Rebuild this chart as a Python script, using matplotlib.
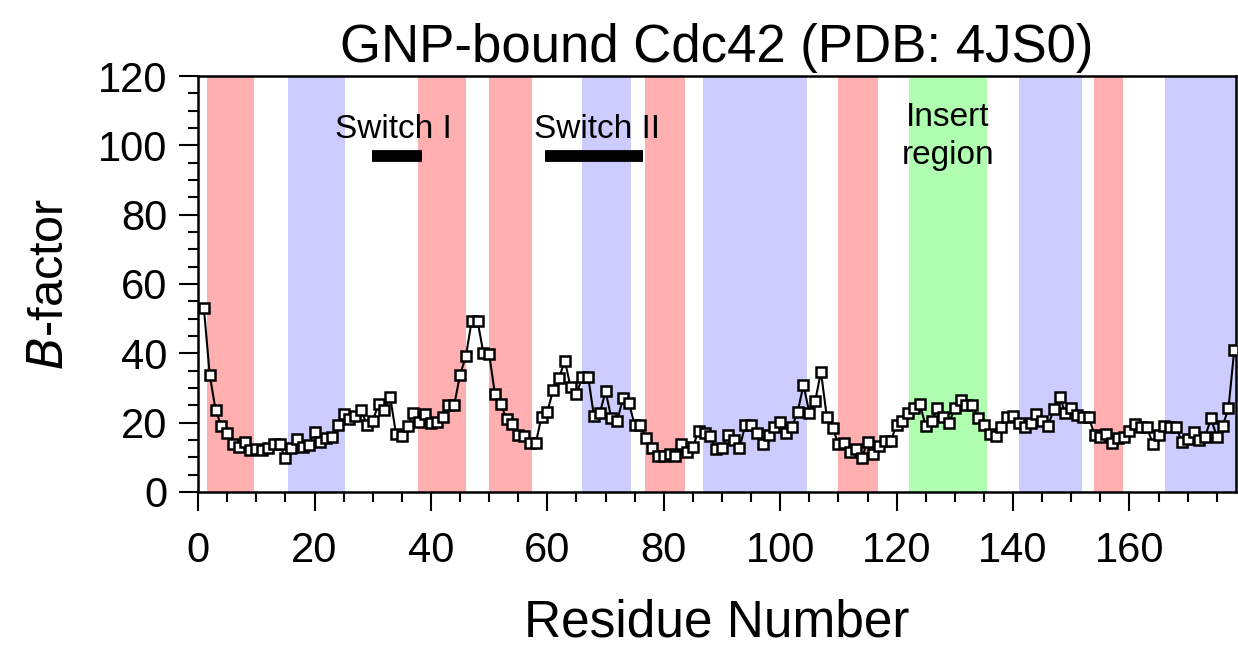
import numpy as np
import matplotlib
matplotlib.use("Agg")
import matplotlib.pyplot as plt
from matplotlib.ticker import MultipleLocator

plt.rcParams['font.family'] = ['Liberation Sans', 'DejaVu Sans']

# ---- data ----
residues = np.arange(1, 179)
bfactor = [
    53.0, 33.8, 23.7, 19.0, 16.9, 13.9, 13.1, 14.5, 12.1, 12.3,
    12.1, 12.6, 13.9, 13.9, 9.7, 12.6, 15.2, 13.1, 13.6, 17.4,
    14.5, 15.5, 16.0, 19.3, 22.4, 21.0, 22.0, 23.7, 19.3, 20.5,
    25.4, 23.7, 27.5, 16.7, 16.2, 19.0, 22.7, 20.3, 22.5, 19.8,
    20.3, 21.5, 25.1, 25.1, 33.8, 39.1, 49.4, 49.4, 40.2, 39.8,
    28.2, 25.3, 21.0, 19.5, 16.5, 16.2, 14.2, 14.0, 21.7, 23.2,
    29.4, 32.8, 37.9, 30.2, 28.3, 33.1, 33.3, 21.9, 22.7, 29.0,
    21.3, 20.6, 27.0, 25.8, 19.3, 19.3, 15.5, 12.6, 10.4, 10.4,
    11.0, 10.4, 13.9, 11.6, 13.1, 17.7, 16.9, 16.2, 12.3, 12.6,
    16.5, 15.0, 12.6, 19.3, 19.3, 17.1, 13.9, 16.5, 18.7, 20.3,
    17.1, 18.6, 23.2, 30.9, 22.9, 26.1, 34.7, 21.7, 18.4, 13.9,
    14.2, 11.4, 12.3, 9.7, 14.5, 11.0, 13.3, 14.8, 14.8, 19.3,
    20.6, 22.7, 24.1, 25.4, 18.9, 20.6, 24.1, 21.7, 20.0, 24.1,
    26.6, 25.1, 25.1, 21.3, 19.3, 16.7, 16.2, 18.7, 21.7, 21.9,
    20.0, 18.7, 19.8, 22.5, 20.6, 19.0, 23.9, 27.5, 22.7, 24.1,
    22.2, 21.7, 21.7, 16.5, 16.0, 16.7, 14.0, 15.5, 15.8, 17.7,
    19.6, 18.7, 18.7, 13.9, 16.5, 18.9, 18.7, 18.7, 14.5, 15.2,
    17.4, 15.0, 16.0, 21.2, 16.0, 19.0, 24.1, 41.0,
]

# shaded regions (start, end, kind)
band_starts = [1.5, 15.5, 37.8, 49.9, 65.9, 76.8, 86.8, 109.9, 122.1, 141.1, 153.9, 166.1]
band_ends   = [9.6, 25.3, 46.1, 57.4, 74.4, 83.7, 104.6, 116.8, 135.5, 151.8, 158.9, 178.5]
band_kinds  = ['helix', 'strand', 'helix', 'helix', 'strand', 'helix', 'strand',
               'helix', 'insert', 'strand', 'helix', 'strand']
band_colors = {'helix': '#FFAFAF', 'strand': '#CCCCFF', 'insert': '#B0FFB0'}

switch_labels = ['Switch I', 'Switch II']
switch_starts = [29.8, 59.6]
switch_ends = [38.4, 76.5]
switch_level = 97

# ---- figure ----
fig = plt.figure(figsize=(12.38, 6.53), dpi=100)
ax = fig.add_axes([0.16, 0.2466, 0.8384, 0.637])

for s, e, k in zip(band_starts, band_ends, band_kinds):
    ax.axvspan(s, e, color=band_colors[k], lw=0, zorder=0)

for lab, s, e in zip(switch_labels, switch_starts, switch_ends):
    ax.plot([s, e], [switch_level, switch_level], color='black', lw=8.5,
            solid_capstyle='butt', zorder=3)
    ax.text((s + e) / 2 - 0.5 if lab == 'Switch I' else (s + e) / 2 + 0.5,
            104.5, lab, ha='center', va='center', fontsize=24)

ax.text(128.8, 102.5, 'Insert\nregion', ha='center', va='center', fontsize=24,
        linespacing=1.3)

ax.plot(residues, bfactor, color='black', lw=1.5, marker='s', markersize=6.5,
        markerfacecolor='white', markeredgecolor='black', markeredgewidth=1.8,
        zorder=4, clip_on=True)

ax.set_xlim(0, 178.3)
ax.set_ylim(0, 120)
ax.xaxis.set_major_locator(MultipleLocator(20))
ax.xaxis.set_minor_locator(MultipleLocator(5))
ax.yaxis.set_major_locator(MultipleLocator(20))
ax.yaxis.set_minor_locator(MultipleLocator(5))
ax.tick_params(which='major', direction='out', length=14, width=1.5,
               labelsize=30, pad=8)
ax.tick_params(axis='x', which='major', pad=14)
ax.tick_params(which='minor', direction='out', length=7, width=1.5)
for sp in ax.spines.values():
    sp.set_linewidth(1.8)

ax.set_title('GNP-bound Cdc42 (PDB: 4JS0)', fontsize=38, pad=10)
ax.set_xlabel('Residue Number', fontsize=37, labelpad=20)
ax.set_ylabel(r'$\mathit{B}$-factor', fontsize=35, labelpad=18)

fig.savefig('out.png', dpi=100)
